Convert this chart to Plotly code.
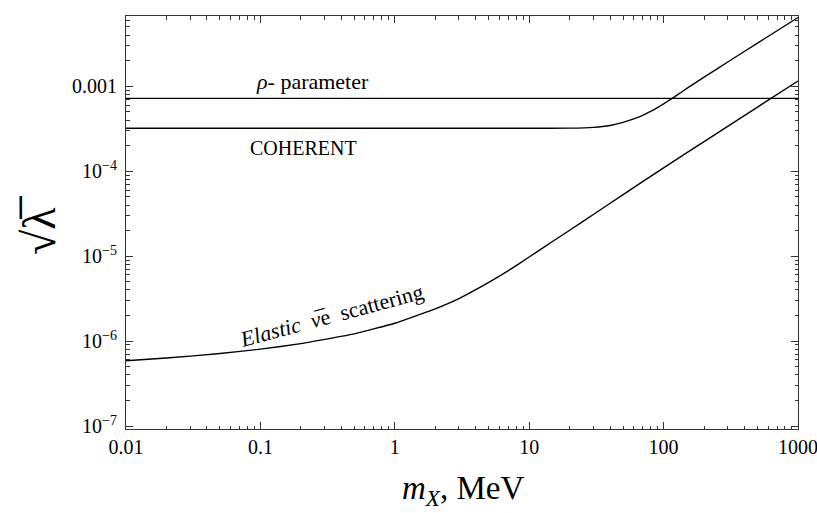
import plotly.graph_objects as go

# ---- data ----
m_elastic = [0.01, 0.02, 0.05, 0.1, 0.2, 0.5, 1, 2, 3, 5, 7, 10, 15, 20, 30, 50, 100, 200, 500, 1000]
y_elastic = [5.86e-7, 6.31e-7, 7.13e-7, 8.04e-7, 9.33e-7, 1.216e-6, 1.622e-6, 2.399e-6,
             3.162e-6, 4.898e-6, 6.761e-6, 9.772e-6, 1.496e-5, 2.018e-5, 3.09e-5, 5.309e-5,
             1.096e-4, 2.228e-4, 5.689e-4, 1.153e-3]

m_coherent = [0.01, 0.1, 1, 10, 20, 30, 40, 50, 60, 70, 80, 90, 100, 112, 125, 150, 200, 300, 500, 1000]
y_coherent = [3.2e-4, 3.2e-4, 3.2e-4, 3.2e-4, 3.21e-4, 3.28e-4, 3.45e-4, 3.75e-4, 4.12e-4,
              4.55e-4, 5.05e-4, 5.6e-4, 6.2e-4, 6.95e-4, 7.8e-4, 9.5e-4, 1.28e-3, 1.93e-3,
              3.22e-3, 6.45e-3]

m_rho = [0.01, 1000]
y_rho = [7.2e-4, 7.2e-4]

x_tickvals = [0.01, 0.1, 1, 10, 100, 1000]
x_ticktext = ["0.01", "0.1", "1", "10", "100", "1000"]
y_tickvals = [1e-7, 1e-6, 1e-5, 1e-4, 1e-3]
y_ticktext = ["10<sup>\u22127</sup>", "10<sup>\u22126</sup>", "10<sup>\u22125</sup>",
              "10<sup>\u22124</sup>", "0.001"]

FONT = "Liberation Serif"

fig = go.Figure()
for xs, ys in [(m_rho, y_rho), (m_coherent, y_coherent), (m_elastic, y_elastic)]:
    fig.add_trace(go.Scatter(x=xs, y=ys, mode="lines",
                             line=dict(color="black", width=1.4, shape="spline", smoothing=0.3),
                             showlegend=False, hoverinfo="skip"))

x_minor = [k * 10 ** d for d in range(-2, 3) for k in range(2, 10)]
y_minor = [k * 10 ** d for d in range(-7, -2) for k in range(2, 10)]

axis_common = dict(type="log", showgrid=False, zeroline=False, showline=True,
                   automargin=False, ticklabeloverflow="allow",
                   linecolor="#333333", linewidth=1, mirror="allticks",
                   ticks="inside", ticklen=7, tickwidth=1, tickcolor="#333333",
                   tickfont=dict(family=FONT, size=20, color="black"))

fig.update_xaxes(**axis_common, range=[-2, 3], tickmode="array",
                 tickvals=x_tickvals, ticktext=x_ticktext,
                 minor=dict(tickmode="array", tickvals=x_minor, ticks="inside",
                            ticklen=3.5, tickcolor="#333333", showgrid=False))
fig.update_yaxes(**axis_common, range=[-7.035, -2.173], tickmode="array",
                 tickvals=y_tickvals, ticktext=y_ticktext, ticklabelstandoff=4,
                 minor=dict(tickmode="array", tickvals=y_minor, ticks="inside",
                            ticklen=3.5, tickcolor="#333333", showgrid=False))

ann = []
ann.append(dict(xref="x", yref="y", x=-0.609, y=-2.945, showarrow=False,
                xanchor="center", yanchor="middle",
                text="<i>\u03c1</i>- parameter", font=dict(family=FONT, size=22, color="black")))
ann.append(dict(xref="x", yref="y", x=-0.676, y=-3.729, showarrow=False,
                xanchor="center", yanchor="middle",
                text="COHERENT", font=dict(family=FONT, size=20, color="black")))
ann.append(dict(xref="x", yref="y", x=-0.47, y=-5.70, showarrow=False, textangle=-15,
                xanchor="center", yanchor="middle",
                text="<i>Elastic</i>  <i>\u03bd\u0305</i>e  scattering",
                font=dict(family=FONT, size=22, color="black")))
ann.append(dict(xref="paper", yref="paper", x=0.502, y=-0.15, showarrow=False,
                xanchor="center", yanchor="middle",
                text="<i>m<sub>X</sub></i>, MeV", font=dict(family=FONT, size=33, color="black")))
ann.append(dict(xref="paper", yref="paper", x=-0.128, y=0.494, showarrow=False, textangle=-90,
                xanchor="center", yanchor="middle",
                text="\u221a\u03bb\u0305", font=dict(family=FONT, size=46, color="black")))

fig.update_layout(width=817, height=513, margin=dict(l=126, r=19, t=16, b=84, autoexpand=False),
                  font=dict(family=FONT, size=16, color="black"),
                  plot_bgcolor="white", paper_bgcolor="white", annotations=ann)

fig.write_html("out.html", config={"displayModeBar": False},
               post_script="document.body.style.margin='0px';document.body.style.overflow='hidden';")
